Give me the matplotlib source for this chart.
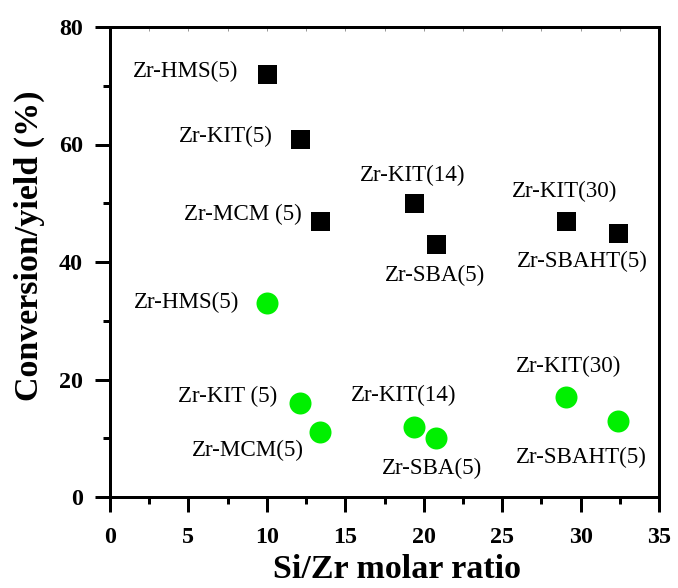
import numpy as np
import matplotlib.pyplot as plt
from matplotlib.ticker import MultipleLocator

# samples and values
names_conv = ['Zr-HMS(5)', 'Zr-KIT(5)', 'Zr-MCM (5)', 'Zr-KIT(14)', 'Zr-SBA(5)', 'Zr-KIT(30)', 'Zr-SBAHT(5)']
names_yield = ['Zr-HMS(5)', 'Zr-KIT (5)', 'Zr-MCM(5)', 'Zr-KIT(14)', 'Zr-SBA(5)', 'Zr-KIT(30)', 'Zr-SBAHT(5)']
si_zr = np.array([10.0, 12.1, 13.4, 19.4, 20.8, 29.1, 32.4])
conversion = np.array([72, 61, 47, 50, 43, 47, 45])
yield_ = np.array([33, 16, 11, 12, 10, 17, 13])

# label offsets in points (dx, dy, ha)
off_conv = [(-29, 3, 'right'), (-27, 2, 'right'), (-18, 6, 'right'), (-2, 28, 'center'),
            (-1, -31, 'center'), (-2, 29, 'center'), (-36, -29, 'center')]
off_yield = [(-28, 1, 'right'), (-23, 7, 'right'), (-16, -18, 'right'), (-11, 31, 'center'),
             (-4, -30, 'center'), (2, 31, 'center'), (-37, -37, 'center')]

plt.rcParams['font.family'] = 'Liberation Serif'

fig = plt.figure(figsize=(678/72, 588/72), dpi=72)
ax = fig.add_axes([110/678, 1-497/588, 549/678, 470/588])

ax.plot(si_zr, conversion, 's', color='black', ms=19, mew=0, zorder=3)
ax.plot(si_zr, yield_, 'o', color='#00f000', ms=22, mew=0, zorder=3)

for i in range(len(si_zr)):
    dx, dy, ha = off_conv[i]
    ax.annotate(names_conv[i], (si_zr[i], conversion[i]), xytext=(dx, dy),
                textcoords='offset points', ha=ha, va='center', fontsize=23)
    dx, dy, ha = off_yield[i]
    ax.annotate(names_yield[i], (si_zr[i], yield_[i]), xytext=(dx, dy),
                textcoords='offset points', ha=ha, va='center', fontsize=23)

ax.set_xlim(0, 35)
ax.set_ylim(0, 80)
ax.xaxis.set_major_locator(MultipleLocator(5))
ax.xaxis.set_minor_locator(MultipleLocator(2.5))
ax.yaxis.set_major_locator(MultipleLocator(20))
ax.yaxis.set_minor_locator(MultipleLocator(10))

for s in ax.spines.values():
    s.set_linewidth(3)

ax.tick_params(which='major', direction='out', length=15, width=3, labelsize=24)
ax.tick_params(which='minor', direction='out', length=7, width=3)
ax.tick_params(axis='x', which='major', pad=15)
ax.tick_params(axis='y', which='major', pad=12)

# faint inward ticks on the top frame
sec = ax.secondary_xaxis('top')
sec.xaxis.set_major_locator(MultipleLocator(2.5))
sec.tick_params(direction='in', length=4, width=1, color='#999999', labeltop=False)
sec.spines['top'].set_visible(False)

for lab in ax.get_xticklabels() + ax.get_yticklabels():
    lab.set_fontweight('bold')

ax.set_xlabel('Si/Zr molar ratio', fontsize=34, fontweight='bold', va='baseline')
ax.xaxis.set_label_coords(0.523, -0.172)
ax.set_ylabel('Conversion/yield (%)', fontsize=34, fontweight='bold', va='center')
ax.yaxis.set_label_coords(-0.1475, 0.534)

fig.savefig('out.png', dpi=72)
